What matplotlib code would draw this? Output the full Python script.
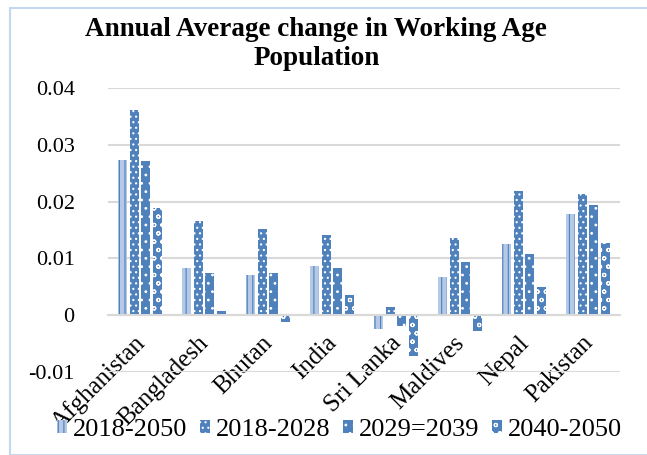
import numpy as np
import matplotlib.pyplot as plt
from matplotlib.patches import Rectangle

plt.rcParams['font.family'] = ['Liberation Serif', 'DejaVu Serif']
plt.rcParams['hatch.linewidth'] = 0.8

countries = ['Afghanistan', 'Bangladesh', 'Bhutan', 'India', 'Sri Lanka',
             'Maldives', 'Nepal', 'Pakistan']
periods = ['2018-2050', '2018-2028', '2029=2039', '2040-2050']

p2018_2050 = [0.0274, 0.0083, 0.0070, 0.0086, -0.0025, 0.0067, 0.0125, 0.0178]
p2018_2028 = [0.0362, 0.0166, 0.0151, 0.0141, 0.0015, 0.0136, 0.0219, 0.0214]
p2029_2039 = [0.0272, 0.0074, 0.0074, 0.0083, -0.0019, 0.0094, 0.0108, 0.0194]
p2040_2050 = [0.0188, 0.0007, -0.0012, 0.0035, -0.0071, -0.0027, 0.0049, 0.0127]

series = [p2018_2050, p2018_2028, p2029_2039, p2040_2050]

blue = '#4f81bd'
styles = [
    dict(facecolor='#b4c9e6', edgecolor=blue, hatch='|||'),
    dict(facecolor=blue, edgecolor='white', hatch='...'),
    dict(facecolor=blue, edgecolor='white', hatch='..'),
    dict(facecolor=blue, edgecolor='white', hatch='oo'),
]

fig = plt.figure(figsize=(6.47, 4.55), dpi=100)
ax = fig.add_axes([108 / 647, 1 - 372 / 455, 512 / 647, 284 / 455])

x = np.arange(len(countries))
pitch = 0.183
width = 0.14
for i, (vals, st) in enumerate(zip(series, styles)):
    ax.bar(x + (i - 1.5) * pitch, vals, width, linewidth=0,
           label=periods[i], **st)

ax.set_xlim(-0.5, len(countries) - 0.5)
ax.set_ylim(-0.01, 0.04)
ax.set_yticks([-0.01, 0, 0.01, 0.02, 0.03, 0.04])
ax.set_yticklabels(['-0.01', '0', '0.01', '0.02', '0.03', '0.04'], fontsize=16)
ax.yaxis.grid(True, color='#d9d9d9', linewidth=1.5)
ax.set_axisbelow(True)
ax.tick_params(axis='y', length=0, pad=24)
ax.tick_params(axis='x', length=0, pad=12)

for s in ['top', 'right', 'left']:
    ax.spines[s].set_visible(False)
ax.spines['bottom'].set_position(('data', 0))
ax.spines['bottom'].set_color('#d9d9d9')
ax.spines['bottom'].set_linewidth(1.5)

ax.set_xticks(x - 0.1)
ax.set_xticklabels(countries, fontsize=18, rotation=45, ha='right',
                   rotation_mode='anchor')

fig.text(0.489, 0.903, 'Annual Average change in Working Age\nPopulation',
         ha='center', va='center', fontsize=19.5, fontweight='bold',
         linespacing=1.2)

fig.legend(loc='center', bbox_to_anchor=(0.525, 0.055), ncol=4, frameon=False,
           fontsize=19, handlelength=0.38, handleheight=0.38,
           handletextpad=0.2, columnspacing=0.5, borderpad=0)

fig.patches.append(Rectangle((10 / 647, 0), 1.2, 1 - 8 / 455, fill=False,
                             edgecolor='#c6d6ec', linewidth=1.5,
                             transform=fig.transFigure))

fig.savefig('out.png', dpi=100)
